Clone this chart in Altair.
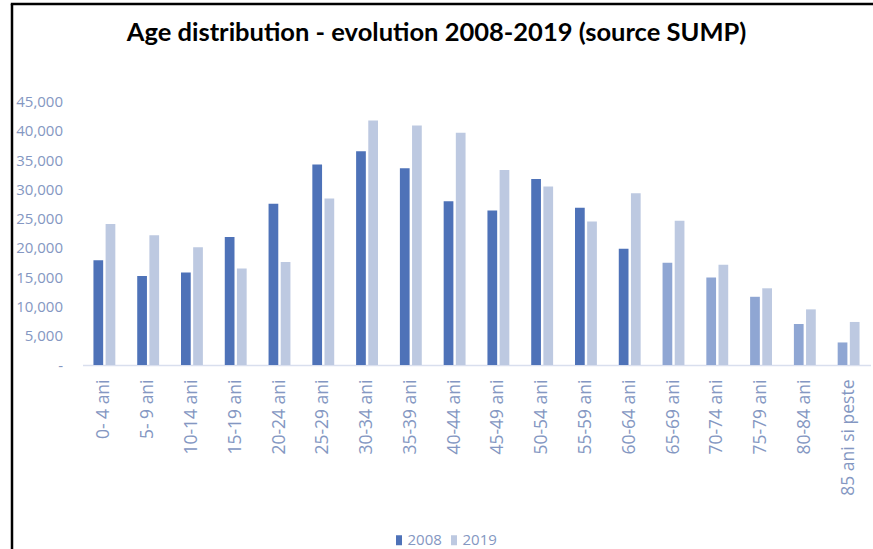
import altair as alt
import pandas as pd

# Age groups (Romanian labels) and population counts for the two years
categories = [
    "0- 4 ani", "5- 9 ani", "10-14 ani", "15-19 ani", "20-24 ani", "25-29 ani",
    "30-34 ani", "35-39 ani", "40-44 ani", "45-49 ani", "50-54 ani", "55-59 ani",
    "60-64 ani", "65-69 ani", "70-74 ani", "75-79 ani", "80-84 ani", "85 ani si peste",
]
v2008 = [17900, 15200, 15800, 21850, 27550, 34250, 36500, 33600, 27950,
         26400, 31750, 26850, 19850, 17450, 14950, 11650, 7000, 3850]
v2019 = [24100, 22150, 20100, 16500, 17600, 28450, 41750, 40900, 39650,
         33300, 30500, 24500, 29350, 24650, 17100, 13100, 9500, 7350]
years = ["2008", "2019"]
# 2008 bars for the older age groups are drawn in a paler shade
pale_2008 = ["65-69 ani", "70-74 ani", "75-79 ani", "80-84 ani", "85 ani si peste"]

rows = []
for cat, a, b in zip(categories, v2008, v2019):
    rows.append({"grupa": cat, "an": "2008", "valoare": a,
                 "ton": "2008 pal" if cat in pale_2008 else "2008"})
    rows.append({"grupa": cat, "an": "2019", "valoare": b, "ton": "2019"})
df = pd.DataFrame(rows)

LABEL = "#8497c2"
FONT = "Open Sans"

bars = alt.Chart(df).mark_bar().encode(
    x=alt.X("grupa:N", sort=categories, title=None,
            scale=alt.Scale(paddingInner=0.5, paddingOuter=0.25),
            axis=alt.Axis(labelAngle=-90, ticks=False, labelPadding=14,
                          domainColor="#d9dfee", domainWidth=1.5,
                          labelColor=LABEL, labelFont=FONT, labelFontSize=17.5)),
    xOffset=alt.XOffset("an:N", sort=years, scale=alt.Scale(paddingInner=0.2)),
    y=alt.Y("valoare:Q", title=None,
            scale=alt.Scale(domain=[0, 45000], nice=False),
            axis=alt.Axis(values=list(range(0, 45001, 5000)), grid=False,
                          domain=False, ticks=False, labelPadding=20,
                          labelExpr="datum.value == 0 ? '-\u00a0\u00a0' : format(datum.value, ',.0f')",
                          labelColor=LABEL, labelFont=FONT, labelFontSize=15)),
    color=alt.Color("ton:N",
                    scale=alt.Scale(domain=["2008", "2019", "2008 pal"],
                                    range=["#4e72b8", "#bdc9e1", "#8fa6d3"]),
                    legend=alt.Legend(values=["2008", "2019"], title=None,
                                      orient="none", legendX=309, legendY=431,
                                      direction="horizontal",
                                      symbolType="M-0.6,-1H0.6V1H-0.6Z",
                                      symbolSize=100, symbolStrokeWidth=0,
                                      labelFont=FONT, labelFontSize=15,
                                      labelColor=LABEL, columnPadding=4,
                                      labelOffset=1)),
)

# Frame lines along the left and top edges of the figure
frame_src = alt.Chart(pd.DataFrame({"k": [0]}))
left_edge = frame_src.mark_rule(color="black", strokeWidth=2.5).encode(
    x=alt.value(-70.5), y=alt.value(-97.5), y2=alt.value(460))
top_edge = frame_src.mark_rule(color="black", strokeWidth=2.5).encode(
    x=alt.value(-71.7), x2=alt.value(800), y=alt.value(-97.5))

chart = alt.layer(bars, left_edge, top_edge).properties(
    width=788, height=263.5,
    title=alt.TitleParams("Age distribution - evolution 2008-2019 (source SUMP)",
                          font="Lato", fontSize=25.5, fontWeight="bold",
                          color="black", anchor="middle", dx=-40, offset=-44),
    padding={"left": 82.5, "top": 101.5, "right": 2.5, "bottom": 184},
    autosize=alt.AutoSizeParams(type="none"),
    background="white",
).configure_view(stroke=None)

chart.save("out.html", embed_options={"renderer": "svg", "actions": False})
